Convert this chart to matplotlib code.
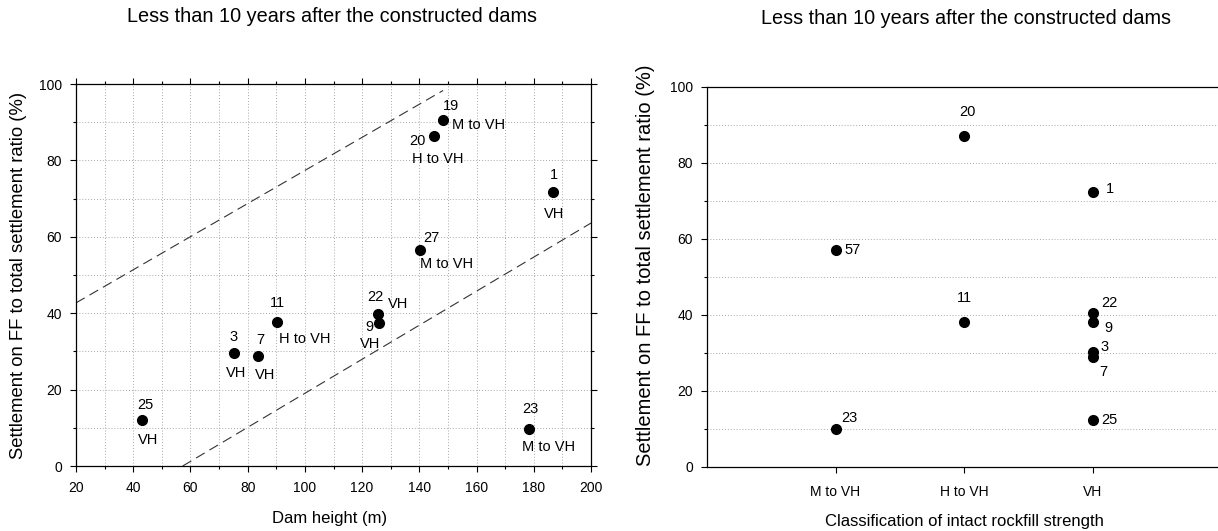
import matplotlib
matplotlib.use("Agg")
import matplotlib.pyplot as plt
from matplotlib.ticker import MultipleLocator

plt.rcParams['font.family'] = ['Liberation Sans', 'DejaVu Sans']

# ---- Left chart data ----
dam_ids = ["25", "3", "7", "11", "22", "9", "27", "20", "19", "1", "23"]
dam_height = [43, 75.2, 83.5, 90.3, 125.6, 125.9, 140.2, 145.3, 148.3, 186.6, 178.5]
ratio_left = [12.0, 29.7, 28.7, 37.6, 39.9, 37.5, 56.5, 86.5, 90.7, 71.6, 9.6]
dam_class = ["VH", "VH", "VH", "H to VH", "VH", "VH", "M to VH", "H to VH", "M to VH", "VH", "M to VH"]

upper_line_x = [20, 148.3]
upper_line_y = [42.7, 98.3]
lower_line_x = [57.3, 200]
lower_line_y = [0, 63.6]

# ---- Right chart data ----
categories = ["M to VH", "H to VH", "VH"]
right_cat = ["M to VH", "M to VH", "H to VH", "H to VH", "VH", "VH", "VH", "VH", "VH", "VH"]
right_ids = ["57", "23", "20", "11", "1", "22", "9", "3", "7", "25"]
ratio_right = [57.1, 10.1, 87.1, 38.2, 72.3, 40.4, 38.2, 30.3, 28.9, 12.4]

title_text = "Less than 10 years after the constructed dams"
ylabel_text = "Settlement on FF to total settlement ratio (%)"

fig = plt.figure(figsize=(12.18, 5.31), dpi=100)
W, H = 1218, 531

axL = fig.add_axes([76 / W, (H - 466) / H, (591 - 76) / W, (466 - 84) / H])
axR = fig.add_axes([707 / W, (H - 467) / H, (1221 - 707) / W, (467 - 87) / H])

grid_kw = dict(color="#a8a8a8", linestyle=(0, (1, 2)), linewidth=0.7)

# ---- Left chart ----
axL.set_xlim(20, 200)
axL.set_ylim(0, 100)
axL.xaxis.set_major_locator(MultipleLocator(20))
axL.xaxis.set_minor_locator(MultipleLocator(10))
axL.yaxis.set_major_locator(MultipleLocator(20))
axL.yaxis.set_minor_locator(MultipleLocator(10))
axL.grid(True, which="both", **grid_kw)
axL.set_axisbelow(True)
axL.tick_params(which="both", direction="out", labelsize=10, width=0.8, top=True, right=True)
axL.tick_params(which="major", length=4)
axL.tick_params(which="minor", length=2.5)
axL.tick_params(axis="x", pad=7)
axL.tick_params(axis="y", pad=6)
for s in axL.spines.values():
    s.set_linewidth(0.9)

axL.plot(upper_line_x, upper_line_y, color="#333333", lw=0.8, linestyle=(0, (9, 5)))
axL.plot(lower_line_x, lower_line_y, color="#333333", lw=0.8, linestyle=(0, (9, 5)))
axL.plot(dam_height, ratio_left, "o", color="black", markersize=7, zorder=5)

# label offsets (pixels): (id dx, id dy, class dx, class dy)
offsL = {
    "25": (4, 15, 6, -20),
    "3": (0, 16, 2, -20),
    "7": (3, 16, 7, -19),
    "11": (0, 19, 28, -17),
    "22": (-3, 17, 20, 10),
    "9": (-10, -4, -9, -21),
    "27": (11, 12, 27, -14),
    "20": (-17, -5, 3, -23),
    "19": (8, 14, 35, -5),
    "1": (1, 17, 1, -22),
    "23": (1, 20, 19, -18),
}
for i, did in enumerate(dam_ids):
    dx1, dy1, dx2, dy2 = offsL[did]
    axL.annotate(did, (dam_height[i], ratio_left[i]), xytext=(dx1, dy1),
                 textcoords="offset pixels", ha="center", va="center", fontsize=10.5)
    axL.annotate(dam_class[i], (dam_height[i], ratio_left[i]), xytext=(dx2, dy2),
                 textcoords="offset pixels", ha="center", va="center", fontsize=10.5)

axL.set_xlabel("Dam height (m)", fontsize=12)
axL.set_ylabel(ylabel_text, fontsize=13.3)
axL.xaxis.set_label_coords((330 - 76) / 515, -(511 - 466) / 382)
axL.yaxis.set_label_coords(-0.095, 0.5)

# ---- Right chart ----
cat_pos = {c: i + 1 for i, c in enumerate(categories)}
xr = [cat_pos[c] for c in right_cat]
axR.set_xlim(0, 4)
axR.set_ylim(0, 100)
axR.set_xticks([cat_pos[c] for c in categories])
axR.set_xticklabels(categories)
axR.yaxis.set_major_locator(MultipleLocator(20))
axR.yaxis.set_minor_locator(MultipleLocator(10))
axR.grid(True, which="both", axis="y", **grid_kw)
axR.set_axisbelow(True)
axR.tick_params(which="both", direction="out", labelsize=10, width=0.8)
axR.tick_params(which="major", length=4)
axR.tick_params(which="minor", length=2.5)
axR.tick_params(axis="x", labelsize=10, pad=9)
axR.tick_params(axis="y", pad=6)
axR.spines["right"].set_visible(False)
for s in axR.spines.values():
    s.set_linewidth(0.9)

axR.plot(xr, ratio_right, "o", color="black", markersize=7, zorder=5)
offsR = {
    "57": (17, 0), "23": (14, 11), "20": (3, 24), "11": (0, 24), "1": (17, 3),
    "22": (17, 10), "9": (16, -6), "3": (12, 5), "7": (11, -15), "25": (17, 0),
}
for i, rid in enumerate(right_ids):
    dx, dy = offsR[rid]
    axR.annotate(rid, (xr[i], ratio_right[i]), xytext=(dx, dy),
                 textcoords="offset pixels", ha="center", va="center", fontsize=10.5)

axR.set_xlabel("Classification of intact rockfill strength", fontsize=12)
axR.set_ylabel(ylabel_text, fontsize=14.5)
axR.xaxis.set_label_coords(0.5, -(514 - 467) / 380)
axR.yaxis.set_label_coords(-0.101, 0.53)

fig.text(332 / W, 1 - 17 / H, title_text, ha="center", va="center", fontsize=14.3)
fig.text(966 / W, 1 - 18 / H, title_text, ha="center", va="center", fontsize=14.3)

fig.savefig("out.png", dpi=100)
